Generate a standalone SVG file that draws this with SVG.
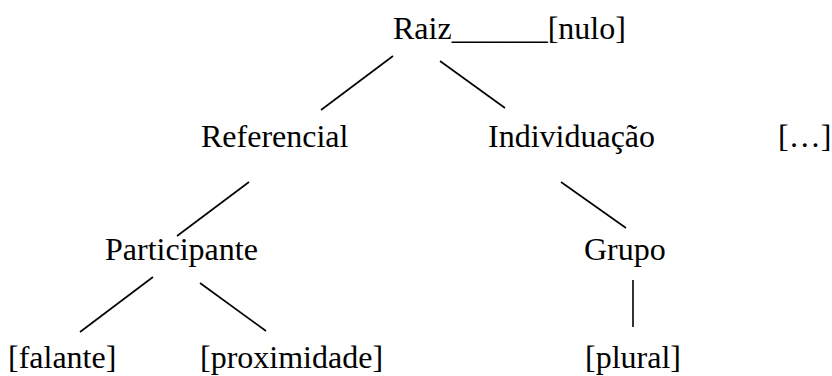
<svg xmlns="http://www.w3.org/2000/svg" width="832" height="376" viewBox="0 0 832 376">
<style>
text{font-family:'Liberation Serif','DejaVu Serif',serif;font-size:32px;fill:#000}
.c line{stroke:#000;stroke-width:1.6;fill:none}
</style>
<rect width="832" height="376" fill="#fff"/>
<g class="c" id="connectors">
<line x1="393" y1="56" x2="321" y2="110"/>
<line x1="440" y1="61" x2="505" y2="108"/>
<line x1="249" y1="182" x2="177" y2="236"/>
<line x1="153" y1="277" x2="80" y2="332"/>
<line x1="200" y1="283" x2="266" y2="331"/>
<line x1="561" y1="182" x2="626" y2="228"/>
<line x1="633" y1="280" x2="633" y2="327"/>
</g>
<g id="raiz"><text x="393" y="39" font-family="Liberation Serif, serif">Raiz______[nulo]</text></g>
<g id="referencial"><text x="201" y="147">Referencial</text></g>
<g id="individuacao"><text x="488" y="147">Individuação</text></g>
<g id="etc"><text x="778" y="147">[…]</text></g>
<g id="participante"><text x="105" y="260">Participante</text></g>
<g id="grupo"><text x="584" y="260">Grupo</text></g>
<g id="falante"><text x="8" y="368">[falante]</text></g>
<g id="proximidade"><text x="200" y="368">[proximidade]</text></g>
<g id="plural"><text x="585" y="368">[plural]</text></g>
</svg>
